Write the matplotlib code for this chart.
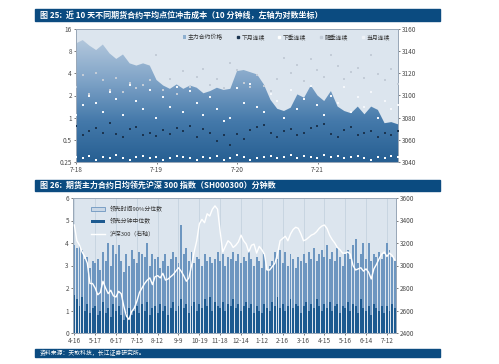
import numpy as np
import matplotlib
matplotlib.use('Agg')
import matplotlib.pyplot as plt
from matplotlib.patches import Rectangle
from matplotlib.lines import Line2D
from matplotlib.colors import LinearSegmentedColormap

plt.rcParams['font.family'] = ['Noto Sans CJK SC', 'DejaVu Sans']

# ---- figure 25: 10-minute bars, 12 points per day ----
day_labels = ['7-18', '7-19', '7-20', '7-21']
price = [3147, 3150, 3145, 3141, 3146, 3138, 3133, 3137, 3129, 3127, 3129, 3127,
         3114, 3109, 3106, 3110, 3106, 3109, 3107, 3102, 3104, 3107, 3105, 3106,
         3122, 3123, 3121, 3119, 3110, 3096, 3088, 3086, 3089, 3101, 3098, 3109,
         3100, 3095, 3104, 3090, 3086, 3084, 3090, 3083, 3090, 3087, 3075, 3076, 3074]
cur_month = [0.29, 0.28, 0.30, 0.27, 0.29, 0.28, 0.31, 0.28, 0.27, 0.29, 0.30, 0.28,
             0.29, 0.27, 0.28, 0.30, 0.29, 0.28, 0.27, 0.29, 0.28, 0.30, 0.27, 0.28,
             0.31, 0.29, 0.27, 0.28, 0.29, 0.30, 0.28, 0.29, 0.31, 0.28, 0.30, 0.29,
             0.28, 0.31, 0.29, 0.30, 0.28, 0.29, 0.30, 0.28, 0.27, 0.29, 0.28, 0.30, 0.29]
next_month = [0.78, 0.58, 0.66, 0.72, 0.62, 0.85, 0.60, 0.55, 0.70, 0.75, 0.58, 0.62,
              0.56, 0.68, 0.60, 0.72, 0.65, 0.78, 0.55, 0.70, 0.62, 0.48, 0.58, 0.42,
              0.60, 0.52, 0.68, 0.75, 0.80, 0.62, 0.55, 0.65, 0.70, 0.58, 0.62, 0.72,
              0.78, 0.82, 0.60, 0.55, 0.68, 0.75, 0.58, 0.62, 0.66, 0.55, 0.62, 0.58, 0.65]
next_quarter = [1.1, 1.5, 2.0, 1.6, 1.2, 2.2, 1.8, 1.1, 2.8, 1.7, 1.3, 2.4,
                1.0, 1.9, 1.4, 2.6, 1.2, 2.3, 1.6, 1.1, 1.9, 1.3, 0.9, 1.0,
                2.5, 1.6, 2.9, 1.4, 1.2, 2.1, 1.7, 1.0, 2.4, 1.3, 1.8, 2.7,
                1.5, 1.1, 2.0, 1.6, 2.6, 1.2, 1.9, 1.4, 2.2, 1.0, 1.7, 1.3, 1.5]
far_quarter = [2.6, 3.8, 2.1, 4.0, 3.2, 2.4, 3.5, 2.2, 3.0, 2.5, 2.8, 3.2,
               7.2, 2.4, 3.4, 2.1, 4.3, 2.6, 3.6, 4.6, 2.8, 3.3, 2.5, 5.5,
               4.4, 3.0, 2.6, 3.8, 2.7, 2.3, 3.4, 6.5, 4.0, 5.2, 3.1, 6.2,
               4.4, 3.6, 7.0, 5.0, 3.3, 4.2, 4.8, 3.5, 7.2, 3.9, 3.2, 4.6, 2.9]

# ---- figure 26: daily, 8 points per label interval ----
month_labels = ['4-16', '5-17', '6-17', '7-15', '8-12', '9-9', '10-19', '11-18',
                '12-14', '1-12', '2-16', '3-16', '4-15', '5-16', '6-14', '7-12']
p90 = [3.9, 3.8, 3.9, 3.7, 3.3, 3.4, 2.9, 3.2,
       3.1, 3.3, 2.8, 3.6, 3.2, 4.0, 3.0, 3.9,
       3.5, 3.9, 3.2, 2.7, 3.5, 3.0, 3.7, 3.3,
       3.1, 3.6, 3.5, 3.4, 4.0, 3.0, 3.5, 3.3,
       3.4, 2.9, 3.2, 3.5, 3.0, 3.3, 3.6, 3.4,
       3.1, 4.8, 3.5, 3.8, 3.2, 3.6, 3.1, 3.4,
       3.3, 3.0, 3.5, 3.2, 3.4, 3.1, 3.3, 3.6,
       3.2, 3.5, 3.0, 3.4, 3.3, 3.6, 3.2, 3.5,
       3.1, 3.4, 3.2, 3.7, 3.3, 3.0, 3.4, 3.2,
       2.9, 3.5, 2.8, 3.0, 3.2, 3.6, 3.3, 3.7,
       3.1, 3.6, 3.0, 3.5, 3.3, 2.9, 3.4, 3.2,
       3.5, 3.1, 3.6, 3.3, 3.8, 3.2, 3.5, 3.7,
       3.4, 3.9, 3.3, 3.6, 3.2, 3.8, 3.4, 3.0,
       3.5, 3.7, 3.3, 3.9, 4.2, 3.1, 3.5, 4.0,
       3.3, 4.0, 3.2, 3.5, 3.4, 3.6, 3.3, 3.5,
       4.0, 3.7, 3.4, 3.2]
median = [1.7, 1.5, 1.2, 1.6, 1.0, 1.3, 0.9, 1.1,
          1.2, 0.8, 1.0, 1.4, 0.9, 1.1, 0.7, 1.3,
          1.0, 1.2, 0.8, 0.6, 0.9, 1.1, 0.8, 1.0,
          1.2, 0.9, 1.3, 1.0, 1.4, 0.8, 1.1, 1.2,
          0.9, 1.3, 1.0, 1.2, 0.8, 1.1, 1.4, 1.0,
          1.2, 1.5, 1.1, 1.3, 0.9, 1.2, 1.4, 1.0,
          1.3, 1.1, 1.5, 1.2, 1.6, 1.0, 1.4, 1.2,
          1.1, 1.4, 1.0, 1.3, 1.2, 1.5, 1.1, 1.3,
          1.0, 1.2, 1.4, 1.1, 1.3, 0.9, 1.2, 1.0,
          0.9, 1.3, 1.1, 1.0, 1.4, 1.2, 1.6, 1.1,
          1.3, 1.0, 1.2, 1.5, 1.1, 1.3, 1.2, 0.9,
          1.2, 1.4, 1.0, 1.3, 1.1, 1.5, 1.2, 1.0,
          1.3, 1.1, 1.4, 1.0, 1.2, 1.3, 0.9, 1.2,
          1.1, 1.4, 1.0, 1.3, 1.2, 0.9, 1.5, 1.1,
          1.0, 1.2, 0.8, 1.3, 1.1, 1.0, 1.2, 0.9,
          1.2, 1.0, 1.3, 1.1]
hs300 = [3360, 3220, 3180, 3120, 3080, 3020, 2840, 2840,
         2800, 2740, 2760, 2860, 2800, 2750, 2780, 2730,
         2720, 2770, 2750, 2640, 2550, 2520, 2590, 2620,
         2680, 2760, 2800, 2840, 2870, 2890, 2830, 2900,
         2910, 2890, 2930, 2870, 2880, 2900, 2920, 2950,
         2980, 2950, 2910, 2860, 2890, 3000, 3120, 3220,
         3370, 3410, 3380, 3460, 3440, 3500, 3530, 3500,
         3300, 3120, 3170, 3220, 3200, 3160, 3180, 3210,
         3270, 3220, 3190, 3120, 3180, 3190, 3110, 3170,
         3140, 3100, 2960, 2960, 2990, 3020, 3100, 3220,
         3240, 3260, 3220, 3280, 3320, 3340, 3330, 3280,
         3220, 3230, 3250, 3270, 3280, 3300, 3330, 3350,
         3360, 3330, 3270, 3230, 3200, 3160, 3140, 3110,
         3110, 3120, 3100, 3000, 2960, 2970, 2980, 2950,
         2970, 2940, 2880, 2970, 3010, 3060, 3100, 3120,
         3080, 3110, 3090, 3050]

navy = '#0b4b80'
bg = '#dce5ee'
tick_c = '#4a4a4a'

fig = plt.figure(figsize=(4.99, 3.64), dpi=100)


def title_bar(y0, y1, text):
    fig.patches.append(Rectangle((35 / 499, 1 - y1 / 364), 405 / 499, (y1 - y0) / 364,
                                 transform=fig.transFigure, color=navy, zorder=0))
    fig.text(40 / 499, 1 - (y0 + y1) / 2 / 364, text, color='white', fontsize=5.8,
             fontweight='bold', va='center', ha='left')


title_bar(9, 21, '图 25:  近 10 天不同期货合约平均点位冲击成本（10 分钟线，左轴为对数坐标）')
title_bar(180, 191, '图 26:  期货主力合约日均领先沪深 300 指数（SH000300）分钟数')
fig.patches.append(Rectangle((35 / 499, 1 - 357 / 364), 405 / 499, 8 / 364,
                             transform=fig.transFigure, color=navy, zorder=0))
fig.text(40 / 499, 1 - 353 / 364, '资料来源：天软科技，长江证券研究所。', color='white',
         fontsize=4.2, va='center', ha='left')

# ---------------- top panel ----------------
ax = fig.add_axes([76 / 499, 1 - 162 / 364, 322 / 499, 133 / 364])
x1 = np.arange(len(price))
ax.set_facecolor(bg)
ax.set_xlim(0, 48)
ax.set_ylim(3040, 3160)
poly = ax.fill_between(x1, price, 3040, color='none', lw=0)
grad = np.linspace(0, 1, 256).reshape(-1, 1)
cm_top = LinearSegmentedColormap.from_list('t', ['#275f92', '#4479aa', '#7fa3c7', '#b2c7dc'])
im = ax.imshow(grad, cmap=cm_top, aspect='auto', extent=[0, 48, 3040, 3150],
               origin='lower', zorder=1)
im.set_clip_path(poly.get_paths()[0], transform=ax.transData)
ax.set_yticks(np.arange(3040, 3161, 20))
ax.set_xticks([0, 12, 24, 36])
ax.set_xticklabels(day_labels)

ax2 = ax.twinx()
ax.yaxis.tick_right()
ax2.yaxis.tick_left()
ax2.set_yscale('log', base=2)
ax2.set_ylim(0.25, 16)
ax2.set_yticks([0.25, 0.5, 1, 2, 4, 8, 16])
ax2.set_yticklabels(['0.25', '0.5', '1', '2', '4', '8', '16'])
ax2.yaxis.set_minor_locator(matplotlib.ticker.NullLocator())
ax2.scatter(x1, far_quarter, s=4, c='#c3ccd7', marker='s', lw=0, zorder=3)
ax2.scatter(x1, next_quarter, s=4, c='#f4f7fb', marker='s', lw=0, zorder=3)
ax2.scatter(x1, next_month, s=4, c='#1b3551', marker='s', lw=0, zorder=3)
ax2.scatter(x1, cur_month, s=4, c='#ffffff', marker='s', lw=0, zorder=3)

handles = [Rectangle((0, 0), 1, 1, fc='#8fb0cf', ec='none'),
           Line2D([], [], ls='none', marker='s', ms=1.8, color='#1b3551'),
           Line2D([], [], ls='none', marker='s', ms=1.8, color='#ffffff'),
           Line2D([], [], ls='none', marker='s', ms=1.8, color='#c3ccd7'),
           Line2D([], [], ls='none', marker='s', ms=1.8, color='#eef2f7')]
ax2.legend(handles, ['主力合约价格', '下月连续', '下季连续', '隔季连续', '当月连续'],
           loc='upper right', ncol=5, frameon=False, fontsize=4.2, handlelength=0.6,
           handletextpad=0.3, columnspacing=2.2, bbox_to_anchor=(0.99, 1.0),
           labelcolor='#333333')

for a in (ax, ax2):
    a.tick_params(labelsize=4.6, colors=tick_c, length=1.5, width=0.5, pad=1.5)
    for s in a.spines.values():
        s.set_color('#9aa8b8')
        s.set_linewidth(0.7)

# ---------------- bottom panel ----------------
bx = fig.add_axes([73 / 499, 1 - 333 / 364, 323 / 499, 135 / 364])
x2 = np.arange(len(p90))
bx.set_facecolor(bg)
bx.set_xlim(-0.5, 123.5)
bx.set_ylim(0, 6)
for i in range(0, len(p90), 8):
    bx.axvline(i, color='#c5d2df', lw=0.6, zorder=0)
bx.bar(x2, p90, width=0.75, color='#6d96c0', edgecolor='none', zorder=2,
       label='领先时间90%分位数')
bx.bar(x2, median, width=0.75, color='#1d5a90', edgecolor='none', zorder=3,
       label='领先分钟中位数')
bx.set_xticks(np.arange(0, len(p90), 8))
bx.set_xticklabels(month_labels)
bx.set_yticks(range(0, 7))

bx2 = bx.twinx()
bx2.plot(x2, hs300, color='white', lw=1.0, zorder=4, label='沪深300（右轴）')
bx2.set_ylim(2400, 3600)
bx2.set_yticks(np.arange(2400, 3601, 200))

h1, l1 = bx.get_legend_handles_labels()
h2, l2 = bx2.get_legend_handles_labels()
h1[0] = Rectangle((0, 0), 1, 1, fc='#c9d7e6', ec='#6d96c0', lw=0.6)
bx2.legend(h1 + h2, l1 + l2, loc='upper left', frameon=False, fontsize=4.2,
           handlelength=2.4, handleheight=0.6, labelspacing=1.1,
           bbox_to_anchor=(0.04, 0.98), labelcolor='#333333')

for a in (bx, bx2):
    a.tick_params(labelsize=4.6, colors=tick_c, length=1.5, width=0.5, pad=1.5)
    for s in a.spines.values():
        s.set_color('#9aa8b8')
        s.set_linewidth(0.7)

fig.savefig('out.png', dpi=100)
